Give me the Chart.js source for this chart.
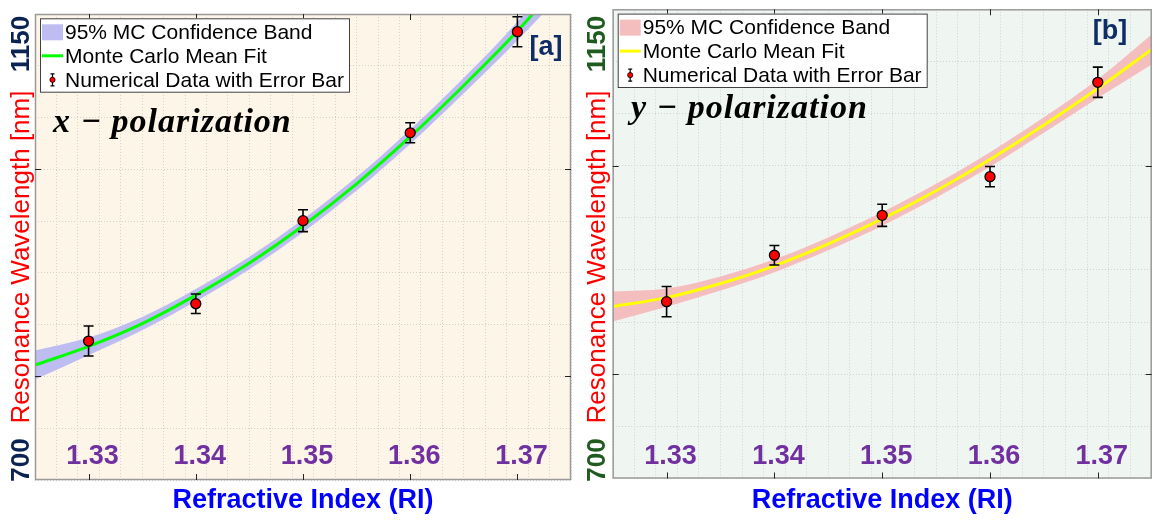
<!DOCTYPE html>
<html>
<head>
<meta charset="utf-8">
<script src="https://cdn.jsdelivr.net/npm/chart.js@4.4.1/dist/chart.umd.min.js"></script>
<style>
  html, body { margin: 0; padding: 0; background: #ffffff; }
  #wrapA { position: absolute; left: 0; top: 0; width: 582px; height: 524px; }
  #wrapB { position: absolute; left: 582px; top: 0; width: 579px; height: 524px; }
</style>
</head>
<body>
<div id="wrapA"><canvas id="chartA" width="582" height="524"></canvas></div>
<div id="wrapB"><canvas id="chartB" width="579" height="524"></canvas></div>
<script>
// numerical points (refractive index vs resonance wavelength, nm)
const riPoints = [1.33, 1.34, 1.35, 1.36, 1.37];
const xPolData = [834.2, 870.2, 950.4, 1035.3, 1132.9];
const yPolData = [869.6, 914.1, 952.4, 989.5, 1080.0];
const errBars = [14.5, 9.4, 10.6, 9.7, 14.5];

// Monte Carlo mean fit
const fitRI = [1.325, 1.330, 1.335, 1.340, 1.345, 1.350, 1.355, 1.360, 1.365, 1.370, 1.375];
const xPolFit = [811, 829, 851, 878.5, 909.5, 945.5, 986, 1031.5, 1081, 1133.5, 1193];
const xPolBand = [14, 8.5, 6.5, 6, 6, 6.2, 6.5, 7, 7.5, 9, 14];
const yPolFit = [865, 873.5, 887, 904, 925, 949, 976, 1006, 1039, 1074, 1111.5];
const yPolBand = [14.4, 8.8, 6.8, 6.2, 6.2, 6.5, 6.7, 7, 7.5, 9, 14.4];

const tickLabels = ['1.33', '1.34', '1.35', '1.36', '1.37'];
const yEndLabels = ['700', '1150'];
const yMajorTicks = [800, 1000];

function pts(xs, ys) {
  return xs.map((x, i) => ({ x: x, y: ys[i] }));
}

function decorPlugin(o) {
  return {
    id: 'decor',
    beforeDraw(chart) {
      const { ctx, chartArea: a } = chart;
      ctx.save();
      ctx.fillStyle = o.bg;
      ctx.fillRect(a.left, a.top, a.right - a.left, a.bottom - a.top);
      ctx.restore();
    },
    beforeDatasetDraw(chart, args) {
      if (args.index !== 3) return;
      const { ctx, scales: { x, y } } = chart;
      const vals = o.values;
      ctx.save();
      ctx.strokeStyle = '#000';
      ctx.lineWidth = 1.6;
      riPoints.forEach((r, i) => {
        const px = x.getPixelForValue(r);
        const y1 = y.getPixelForValue(vals[i] - errBars[i]);
        const y2 = y.getPixelForValue(vals[i] + errBars[i]);
        ctx.beginPath();
        ctx.moveTo(px, y1); ctx.lineTo(px, y2);
        ctx.moveTo(px - 5, y1); ctx.lineTo(px + 5, y1);
        ctx.moveTo(px - 5, y2); ctx.lineTo(px + 5, y2);
        ctx.stroke();
      });
      ctx.restore();
    },
    afterDraw(chart) {
      const { ctx, chartArea: a, scales: { x, y } } = chart;
      ctx.save();

      // frame and inward ticks
      ctx.strokeStyle = '#9a9a9a';
      ctx.lineWidth = 1.5;
      ctx.strokeRect(a.left + 0.5, a.top + 0.5, a.right - a.left - 1, a.bottom - a.top - 1);
      ctx.strokeStyle = '#222';
      ctx.lineWidth = 1;
      ctx.beginPath();
      riPoints.forEach(r => {
        const px = Math.round(x.getPixelForValue(r)) + 0.5;
        ctx.moveTo(px, a.top); ctx.lineTo(px, a.top + 6);
        ctx.moveTo(px, a.bottom); ctx.lineTo(px, a.bottom - 6);
      });
      yMajorTicks.forEach(v => {
        const py = Math.round(y.getPixelForValue(v)) + 0.5;
        ctx.moveTo(a.left, py); ctx.lineTo(a.left + 6, py);
        ctx.moveTo(a.right, py); ctx.lineTo(a.right - 6, py);
      });
      ctx.stroke();

      // x tick labels inside the plot
      ctx.fillStyle = '#7030A0';
      ctx.font = 'bold 27px "Liberation Sans", Arial, sans-serif';
      ctx.textAlign = 'center';
      ctx.textBaseline = 'middle';
      tickLabels.forEach((t, i) => {
        ctx.fillText(t, x.getPixelForValue(riPoints[i]) + 4, 457);
      });

      // x title
      ctx.fillStyle = '#0000FF';
      ctx.font = 'bold 27px "Liberation Sans", Arial, sans-serif';
      ctx.fillText('Refractive Index (RI)', (a.left + a.right) / 2, 501);

      // y texts (rotated)
      const rot = (txt, cx, cy, font, color) => {
        ctx.save();
        ctx.translate(cx, cy);
        ctx.rotate(-Math.PI / 2);
        ctx.font = font;
        ctx.fillStyle = color;
        ctx.textAlign = 'center';
        ctx.textBaseline = 'middle';
        ctx.fillText(txt, 0, 0);
        ctx.restore();
      };
      rot(yEndLabels[1], o.yTextX, 44, 'bold 26px "Liberation Sans", Arial, sans-serif', o.endColor);
      rot(yEndLabels[0], o.yTextX, 460, 'bold 26px "Liberation Sans", Arial, sans-serif', o.endColor);
      rot('Resonance Wavelength [nm]', o.yTextX, 257, '26px "Liberation Sans", Arial, sans-serif', '#FF0000');

      // polarization label
      ctx.fillStyle = '#000';
      ctx.font = 'italic bold 34px "Liberation Serif", "Times New Roman", serif';
      ctx.letterSpacing = '1px';
      ctx.textAlign = 'left';
      ctx.textBaseline = 'alphabetic';
      ctx.fillText(o.polText, o.polX, o.polY);
      ctx.letterSpacing = '0px';

      // panel tag
      ctx.fillStyle = '#0E2D66';
      ctx.font = 'bold 27px "Liberation Sans", Arial, sans-serif';
      ctx.textAlign = 'center';
      ctx.textBaseline = 'middle';
      ctx.fillText(o.tag, o.tagX, o.tagY);

      // legend box
      const bx = a.left + 5, by = a.top + 4.3, bw = 310, bh = 74.4;
      ctx.fillStyle = '#ffffff';
      ctx.fillRect(bx, by, bw, bh);
      ctx.strokeStyle = '#404040';
      ctx.lineWidth = 1;
      ctx.strokeRect(bx + 0.5, by + 0.5, bw - 1, bh - 1);
      const rows = [by + 14, by + 37.5, by + 61.5];
      ctx.fillStyle = o.bandColor;
      ctx.fillRect(bx + 2, rows[0] - 8, 21, 16);
      ctx.strokeStyle = o.lineColor;
      ctx.lineWidth = 3;
      ctx.beginPath();
      ctx.moveTo(bx + 2, rows[1]); ctx.lineTo(bx + 23, rows[1]);
      ctx.stroke();
      const ex = bx + 12.5;
      ctx.strokeStyle = '#000';
      ctx.lineWidth = 1.2;
      ctx.beginPath();
      ctx.moveTo(ex, rows[2] - 6); ctx.lineTo(ex, rows[2] + 6);
      ctx.moveTo(ex - 2, rows[2] - 6); ctx.lineTo(ex + 2, rows[2] - 6);
      ctx.moveTo(ex - 2, rows[2] + 6); ctx.lineTo(ex + 2, rows[2] + 6);
      ctx.stroke();
      ctx.beginPath();
      ctx.arc(ex, rows[2], 2.6, 0, Math.PI * 2);
      ctx.fillStyle = '#FF0000';
      ctx.fill();
      ctx.lineWidth = 0.8;
      ctx.stroke();
      ctx.fillStyle = '#000';
      ctx.font = '21px "Liberation Sans", Arial, sans-serif';
      ctx.textAlign = 'left';
      ctx.textBaseline = 'middle';
      ctx.fillText('95% MC Confidence Band', bx + 25, rows[0] + 1);
      ctx.fillText('Monte Carlo Mean Fit', bx + 25, rows[1] + 1);
      ctx.fillText('Numerical Data with Error Bar', bx + 25, rows[2] + 1);

      ctx.restore();
    }
  };
}

function makeChart(id, o) {
  const upper = o.fit.map((v, i) => v + o.band[i]);
  const lower = o.fit.map((v, i) => v - o.band[i]);
  return new Chart(document.getElementById(id), {
    type: 'line',
    data: {
      datasets: [
        { data: pts(fitRI, upper), fill: '+1', backgroundColor: o.bandColor, borderWidth: 0,
          pointRadius: 0, cubicInterpolationMode: 'monotone', order: 3 },
        { data: pts(fitRI, lower), fill: false, borderWidth: 0, pointRadius: 0,
          cubicInterpolationMode: 'monotone', order: 2 },
        { data: pts(fitRI, o.fit), fill: false, borderColor: o.lineColor, borderWidth: 3,
          pointRadius: 0, cubicInterpolationMode: 'monotone', order: 1 },
        { type: 'scatter', data: pts(riPoints, o.values), pointRadius: 5, pointBackgroundColor: '#FF0000',
          pointBorderColor: '#000', pointBorderWidth: 1.3, order: 0 }
      ]
    },
    options: {
      responsive: false,
      animation: false,
      events: [],
      layout: { padding: o.padding },
      plugins: { legend: { display: false }, tooltip: { enabled: false } },
      scales: {
        x: {
          type: 'linear', min: 1.325, max: 1.375,
          ticks: { display: false, stepSize: 0.002 },
          grid: { color: o.gridColor, lineWidth: 1, drawTicks: false },
          border: { display: false, dash: [1, 2] },
          afterFit: s => { s.height = 0; }
        },
        y: {
          min: 700, max: 1150,
          ticks: { display: false, stepSize: 50 },
          grid: { color: o.gridColor, lineWidth: 1, drawTicks: false },
          border: { display: false, dash: [1, 2] },
          afterFit: s => { s.width = 0; }
        }
      }
    },
    plugins: [decorPlugin(o)]
  });
}

makeChart('chartA', {
  values: xPolData, fit: xPolFit, band: xPolBand,
  bg: '#FDF5E8', bandColor: '#BDBDF2', lineColor: '#00FF00', gridColor: '#d6d2ca',
  padding: { left: 35, top: 14, right: 11, bottom: 44 },
  yTextX: 22, endColor: '#0B2352',
  polText: 'x \u2212 polarization', polX: 53, polY: 132,
  tag: '[a]', tagX: 546, tagY: 48
});

makeChart('chartB', {
  values: yPolData, fit: yPolFit, band: yPolBand,
  bg: '#EFF5F0', bandColor: '#F4BEBE', lineColor: '#FFFF00', gridColor: '#d0d4d1',
  padding: { left: 30.7, top: 9.3, right: 9.3, bottom: 45.5 },
  yTextX: 16, endColor: '#1F5A1F',
  polText: 'y \u2212 polarization', polX: 49, polY: 118,
  tag: '[b]', tagX: 528, tagY: 32
});
</script>
</body>
</html>
